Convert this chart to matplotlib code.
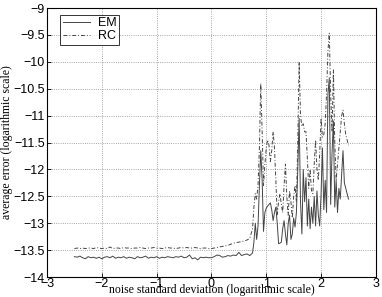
import numpy as np
import matplotlib
matplotlib.use("Agg")
import matplotlib.pyplot as plt

# noise standard deviation (log scale): coarse grid in the flat part, finer in the noisy part
x_flat = np.round(np.arange(-2.5, 0.7001, 0.05), 3)
x_noisy = np.round(np.arange(0.75, 2.5001, 0.025), 3)
x_vals = np.concatenate([x_flat, x_noisy])

em_flat = [
    -13.62, -13.63, -13.61, -13.64, -13.66, -13.62, -13.64, -13.63, -13.65, -13.63, -13.66,
    -13.63, -13.62, -13.64, -13.61, -13.65, -13.63, -13.64, -13.62, -13.65, -13.63,
    -13.64, -13.66, -13.62, -13.64, -13.63, -13.61, -13.65, -13.63, -13.64, -13.62,
    -13.65, -13.63, -13.64, -13.62, -13.63, -13.64, -13.62, -13.63, -13.61, -13.64,
    -13.63, -13.59, -13.66, -13.64, -13.68, -13.63, -13.64, -13.63, -13.64, -13.64,
    -13.62, -13.59, -13.60, -13.63, -13.62, -13.60, -13.61, -13.59, -13.60, -13.54,
    -13.60, -13.58, -13.57, -13.60,
]
em_noisy = [
    -13.55, -13.35, -13.00, -13.30, -13.05, -12.30, -11.65, -12.20, -13.15, -12.80,
    -12.72, -12.68, -12.65, -12.62, -12.75, -12.95, -12.80, -12.70, -13.00, -13.38,
    -13.37, -13.35, -13.10, -12.95, -13.20, -13.40, -13.00, -12.85, -13.30, -13.20,
    -12.90, -13.07, -12.80, -12.00, -11.05, -12.60, -13.20, -12.00, -12.60, -12.15,
    -13.05, -12.55, -13.10, -12.70, -13.00, -12.50, -13.05, -12.40, -12.85, -13.05,
    -12.45, -11.60, -12.75, -12.20, -12.80, -10.60, -10.30, -12.65, -11.70, -11.10,
    -12.70, -12.20, -12.80, -12.35, -12.55, -12.10, -11.65, -12.25, -12.35, -12.45,
    -12.55,
]

rc_flat = [
    -13.47, -13.46, -13.47, -13.46, -13.47, -13.46, -13.46, -13.47, -13.45, -13.46, -13.47,
    -13.46, -13.47, -13.44, -13.47, -13.46, -13.46, -13.47, -13.45, -13.46, -13.46,
    -13.47, -13.46, -13.46, -13.45, -13.46, -13.47, -13.46, -13.46, -13.45, -13.46,
    -13.46, -13.47, -13.46, -13.45, -13.46, -13.46, -13.47, -13.46, -13.45, -13.46,
    -13.45, -13.46, -13.46, -13.45, -13.46, -13.47, -13.46, -13.46, -13.47, -13.47,
    -13.46, -13.45, -13.44, -13.43, -13.42, -13.41, -13.39, -13.37, -13.36, -13.35,
    -13.34, -13.33, -13.31, -13.28,
]
rc_noisy = [
    -13.10, -12.70, -12.45, -12.55, -12.30, -11.60, -10.40, -11.30, -12.30, -11.90,
    -11.60, -11.45, -11.55, -11.85, -11.65, -11.30, -11.60, -12.20, -12.85, -12.60,
    -12.45, -12.65, -12.80, -12.30, -11.90, -12.50, -12.85, -12.40, -12.60, -12.90,
    -12.50, -12.30, -12.60, -11.50, -10.00, -11.00, -11.20, -11.15, -11.30, -11.30,
    -11.80, -12.35, -12.00, -12.40, -12.45, -11.90, -11.45, -12.00, -12.20, -11.70,
    -11.05, -11.40, -11.35, -11.15, -10.60, -9.80, -9.47, -10.60, -11.30, -10.15,
    -11.50, -12.20, -11.90, -11.60, -11.30, -11.00, -10.90, -11.15, -11.35, -11.45,
    -11.55,
]

em_vals = em_flat + em_noisy
rc_vals = rc_flat + rc_noisy

x_ticks = [-3, -2, -1, 0, 1, 2, 3]
y_ticks = [-14, -13.5, -13, -12.5, -12, -11.5, -11, -10.5, -10, -9.5, -9]

plt.rcParams['font.family'] = ['Liberation Sans', 'DejaVu Sans']

fig = plt.figure(figsize=(3.82, 2.97), dpi=100)
ax = fig.add_axes([0.123, 0.067, 0.861, 0.906])

line_col = '#444444'
ax.plot(x_vals, em_vals, '-', color=line_col, lw=0.7, label='EM')
ax.plot(x_vals, rc_vals, '-.', color=line_col, lw=0.7, label='RC', dashes=(4, 2, 1, 2))

ax.set_xlim(-3, 3)
ax.set_ylim(-14, -9)
ax.set_xticks(x_ticks)
ax.set_yticks(y_ticks)
ax.set_xticklabels([f'{v:g}'.replace('-', '\u2212') for v in x_ticks])
ax.set_yticklabels([f'{v:g}'.replace('-', '\u2212') for v in y_ticks])
ax.tick_params(direction='in', labelsize=9, length=3, width=0.6, pad=1.5)
ax.tick_params(axis='x', pad=0.5)
ax.grid(True, linestyle=':', color='#888888', lw=0.6)
for s in ax.spines.values():
    s.set_linewidth(0.8)

ax.set_xlabel('noise standard deviation (logarithmic scale)', family='Liberation Serif',
              fontsize=8.5, va='bottom')
ax.xaxis.set_label_coords(0.5, -0.0705)
ax.set_ylabel('average error (logarithmic scale)', family='Liberation Serif',
              fontsize=8.5, labelpad=0)

leg = ax.legend(loc='upper left', fontsize=9, frameon=True, fancybox=False,
                edgecolor='black', handlelength=2.2, handletextpad=0.6,
                borderpad=0.2, labelspacing=0.1, borderaxespad=0,
                bbox_to_anchor=(0.04, 0.975))
leg.get_frame().set_linewidth(0.7)

fig.savefig('out.png', dpi=100)
